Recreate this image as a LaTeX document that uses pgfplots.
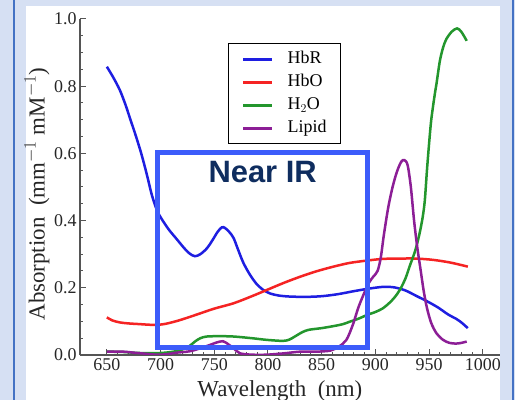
\documentclass[border=0pt]{standalone}
\usepackage{fontspec}
\setmainfont{Liberation Serif}
\setsansfont{Liberation Sans}
\usepackage{pgfplots}
\pgfplotsset{compat=1.18}
\definecolor{bgblue}{RGB}{214,224,243}
\definecolor{framecol}{RGB}{68,114,196}
\definecolor{cHbR}{RGB}{30,30,225}
\definecolor{cHbO}{RGB}{245,35,35}
\definecolor{cH2O}{RGB}{35,150,45}
\definecolor{cLip}{RGB}{140,30,150}
\definecolor{boxblue}{RGB}{60,92,250}
\definecolor{navy}{RGB}{15,45,95}
\definecolor{axgray}{RGB}{85,85,85}
\begin{document}
\begin{tikzpicture}
\useasboundingbox (0,0) rectangle (515bp,400bp);
\fill[bgblue] (0,0) rectangle (515bp,400bp);
\fill[white] (26bp,0) rectangle (500bp,394bp);
\draw[framecol,line width=1.5bp] (14bp,0) -- (14bp,400bp);
\draw[framecol,line width=1.5bp] (513bp,0) -- (513bp,400bp);
\begin{axis}[
  at={(80bp,45bp)}, anchor=south west,
  scale only axis, width=420bp, height=336bp,
  xmin=625, xmax=1016, ymin=0, ymax=1.0,
  axis x line*=bottom, axis y line*=left,
  axis line style={-, axgray, line width=1.2bp},
  every tick/.style={axgray, line width=1bp},
  xtick={650,700,750,800,850,900,950,1000},
  minor x tick num=4,
  ytick={0,0.2,0.4,0.6,0.8,1.0},
  minor y tick num=3,
  tick align=inside,
  major tick length=6bp, minor tick length=3bp,
  /pgf/number format/assume math mode=true,
  yticklabel style={/pgf/number format/fixed, /pgf/number format/precision=1, /pgf/number format/fixed zerofill},
  xticklabel style={/pgf/number format/1000 sep={}},
  tick label style={font=\fontsize{18}{20}\selectfont, text=black!85},
  xlabel={Wavelength\ \ (nm)},
  ylabel={Absorption\ \ (mm$^{-1}$ mM$^{-1}$)},
  label style={font=\fontsize{23}{25}\selectfont, text=black!85},
  xlabel style={at={(axis description cs:0.476,0)}, anchor=base, yshift=-41.5bp},
  ylabel style={at={(axis description cs:-0.1024,0.479)}, anchor=center},
  legend style={at={(0.352,0.929)}, anchor=north west, draw=black, line width=1.6bp,
    font=\fontsize{18}{20}\selectfont, row sep=4bp, inner xsep=13bp, inner ysep=6bp,
    nodes={inner sep=1bp, text height=13bp, text depth=4bp},
    /tikz/every odd column/.append style={column sep=13bp}},
  legend cell align=left,
  legend image code/.code={\draw[#1, line width=3bp] (0bp,0bp) -- (29bp,0bp);},
]
\addplot[cHbR, line width=2.5bp, smooth] coordinates {
(650,0.858)(656,0.826)(662,0.789)(667,0.748)(672,0.700)(677,0.652)(682,0.600)(687,0.540)
(692,0.475)(697,0.428)(702,0.400)(708,0.372)(715,0.345)(722,0.318)(727,0.302)(732,0.294)
(737,0.300)(743,0.317)(748,0.34)(753,0.366)(757,0.38)(760,0.378)(764,0.366)
(768,0.348)(772,0.315)(777,0.275)(783,0.24)(789,0.213)(795,0.195)(802,0.183)(810,0.177)
(820,0.174)(835,0.173)(850,0.175)(865,0.181)(880,0.19)(895,0.198)(908,0.203)(918,0.201)
(928,0.192)(938,0.176)(948,0.160)(958,0.142)(968,0.12)(975,0.108)(980,0.097)(986,0.08)};
\addlegendentry{HbR}
\addplot[cHbO, line width=2.5bp, smooth] coordinates {
(650,0.112)(655,0.103)(662,0.097)(670,0.094)(680,0.092)(690,0.090)(698,0.090)(705,0.093)
(715,0.101)(725,0.111)(737,0.124)(750,0.138)(768,0.154)(785,0.175)(800,0.195)(815,0.215)
(830,0.233)(845,0.249)(861,0.263)(876,0.274)(892,0.281)(907,0.286)(923,0.287)(938,0.287)
(954,0.283)(970,0.275)(986,0.263)};
\addlegendentry{HbO}
\addplot[cH2O, line width=2.5bp, smooth] coordinates {
(650,0.01)(665,0.009)(680,0.006)(700,0.006)(712,0.01)(720,0.016)(727,0.027)(732,0.04)
(737,0.05)(743,0.055)(755,0.056)(768,0.055)(785,0.05)(799,0.045)(814,0.042)(820,0.046)
(825,0.055)(832,0.068)(838,0.075)(850,0.08)(861,0.086)(870,0.092)(876,0.099)(885,0.109)
(892,0.119)(900,0.128)(907,0.139)(913,0.155)(918,0.172)(923,0.195)(928,0.228)(932,0.265)
(937,0.31)(941,0.36)(944,0.41)(946,0.46)(948,0.55)(950,0.63)(952,0.70)(955,0.77)
(957,0.81)(960,0.875)(963,0.915)(966,0.94)(971,0.962)(976,0.972)(980,0.962)(985,0.935)};
\addlegendentry{H$_2$O}
\addplot[cLip, line width=2.5bp, smooth] coordinates {
(650,0.01)(665,0.01)(675,0.007)(685,0.004)(696,0.001)(705,0.002)(715,0.007)(727,0.011)
(737,0.02)(746,0.03)(752,0.037)(758,0.041)(763,0.032)(768,0.02)(774,0.005)(785,0.001)
(799,0.001)(815,0.005)(830,0.01)(845,0.01)(858,0.013)(866,0.025)(873,0.045)(879,0.09)
(884,0.14)(889,0.18)(894,0.215)(898,0.233)(902,0.25)(905,0.29)(908,0.36)(912,0.44)
(916,0.50)(920,0.545)(924,0.575)(927,0.58)(930,0.565)(933,0.50)(936,0.40)(939,0.32)
(942,0.255)(945,0.19)(948,0.14)(952,0.095)(957,0.064)(963,0.045)(969,0.036)(975,0.034)
(980,0.036)(985,0.04)};
\addlegendentry{Lipid}
\draw[boxblue, line width=5bp] (axis cs:697,0.021) rectangle (axis cs:893,0.604);
\node[font={\fontsize{31}{34}\selectfont\sffamily\bfseries}, text=navy] at (axis cs:795,0.545) {Near IR};
\end{axis}
\end{tikzpicture}
\end{document}
